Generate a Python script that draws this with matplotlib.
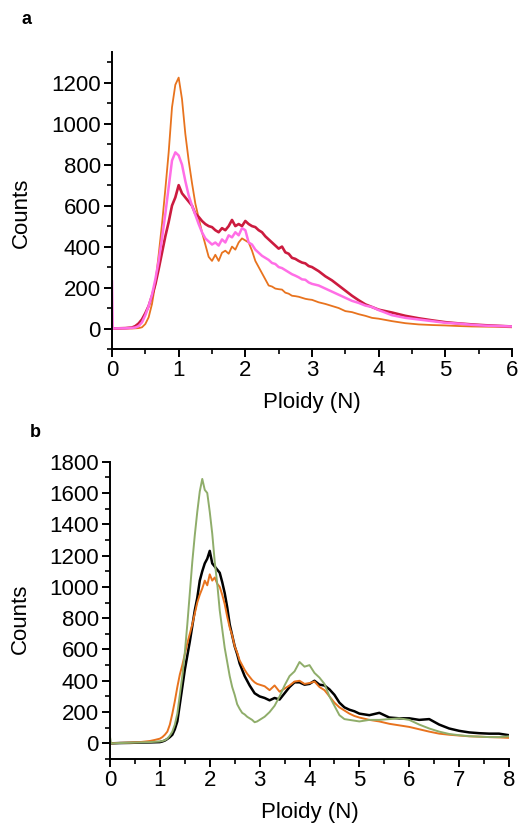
import matplotlib
matplotlib.use("Agg")
import matplotlib.pyplot as plt
from matplotlib.ticker import MultipleLocator

plt.rcParams['font.family'] = ['Liberation Sans', 'DejaVu Sans']

# --- panel a data (ploidy vs counts) ---
XA = [0, 0.01, 0.1, 0.2, 0.3,
      0.35, 0.4, 0.45, 0.5, 0.55, 0.6, 0.65, 0.7, 0.75, 0.8,
      0.85, 0.9, 0.95, 1.0, 1.05, 1.1, 1.15, 1.2, 1.25, 1.3,
      1.35, 1.4, 1.45, 1.5, 1.55, 1.6, 1.65, 1.7, 1.75, 1.8,
      1.85, 1.9, 1.95, 2.0, 2.05, 2.1, 2.15, 2.2, 2.25, 2.3,
      2.35, 2.4, 2.45, 2.5, 2.55, 2.6, 2.65, 2.7, 2.75, 2.8,
      2.85, 2.9, 2.95, 3.0,
      3.1, 3.2, 3.3, 3.4, 3.5, 3.6, 3.7, 3.8, 3.9, 4.0,
      4.2, 4.4, 4.6, 4.8, 5.0, 5.2, 5.4, 5.6, 5.8, 6.0]

A_ORANGE = [0, 0, 0, 0, 0,
            1, 2, 6, 22, 55, 120, 220, 360, 510, 680,
            860, 1080, 1190, 1225, 1120, 950, 820, 710, 610, 540,
            470, 410, 350, 330, 360, 330, 370, 380, 365, 400,
            385, 420, 440, 430, 420, 380, 330, 300, 270, 240,
            210, 205, 195, 192, 190, 175, 170, 160, 158, 155,
            150, 145, 142, 140,
            128, 120, 110, 100, 85, 80, 70, 62, 52, 48,
            36, 26, 20, 17, 15, 12, 10, 9, 8, 6]

A_RED = [0, 0, 1, 2, 5,
         12, 25, 45, 75, 110, 160, 215, 290, 370, 450,
         520, 600, 640, 700, 660, 640, 620, 600, 560, 545,
         525, 510, 500, 495, 480, 470, 490, 480, 500, 530,
         500, 510, 500, 525, 510, 500, 495, 480, 470, 450,
         435, 420, 405, 390, 400, 372, 365, 345, 340, 330,
         322, 318, 305, 300,
         280, 255, 235, 210, 185, 160, 138, 118, 105, 92,
         78, 62, 50, 40, 31, 25, 20, 16, 13, 10]

A_PINK = [230, 0, 1, 1, 3,
          5, 12, 30, 65, 110, 165, 240, 330, 440, 560,
          690, 820, 860, 845, 800, 720, 650, 600, 555, 510,
          470, 440, 425, 410, 420, 405, 435, 420, 455, 445,
          470, 455, 490, 480, 420, 410, 385, 370, 355, 345,
          335, 320, 315, 300, 295, 285, 275, 265, 258, 250,
          240, 238, 225, 218,
          210, 195, 180, 165, 150, 135, 125, 112, 105, 90,
          65, 52, 44, 36, 28, 24, 18, 14, 12, 10]

# --- panel b data ---
XB = [0, 0.02, 0.2, 0.4, 0.6, 0.8, 0.9,
      1.0, 1.05, 1.1, 1.15, 1.2, 1.25, 1.3, 1.35, 1.4, 1.45,
      1.5, 1.55, 1.6, 1.65, 1.7, 1.75, 1.8, 1.85, 1.9, 1.95,
      2.0, 2.05, 2.1, 2.15, 2.2, 2.25, 2.3, 2.35, 2.4, 2.45,
      2.5, 2.55, 2.6, 2.65, 2.7, 2.75, 2.8, 2.85, 2.9, 2.95,
      3.0,
      3.1, 3.2, 3.3, 3.4, 3.5, 3.6, 3.7, 3.8, 3.9, 4.0,
      4.1, 4.2, 4.3, 4.4, 4.5, 4.6, 4.7, 4.8, 4.9, 5.0,
      5.2, 5.4, 5.6, 5.8, 6.0, 6.2, 6.4, 6.6, 6.8, 7.0,
      7.2, 7.4, 7.6, 7.8, 8.0]

B_BLACK = [0, 0, 2, 3, 5, 6, 7,
           8, 12, 18, 28, 40, 55, 90, 140, 250, 360,
           470, 560, 650, 750, 850, 930, 1040, 1100, 1150, 1180,
           1230, 1150, 1130, 1110, 1090, 1030, 960, 870, 760, 690,
           620, 570, 510, 470, 430, 400, 370, 345, 320, 310,
           300,
           290, 275, 290, 280, 320, 360, 390, 390, 375, 380,
           400, 375, 370, 345, 310, 260, 230, 215, 205, 190,
           180, 195, 165, 160, 160, 150, 155, 120, 95, 80,
           70, 65, 62, 62, 52]

B_ORANGE = [0, 0, 3, 5, 8, 15, 22,
            30, 40, 55, 75, 120, 190, 270, 360, 440, 500,
            570, 640, 700, 760, 830, 900, 950, 990, 1040, 1010,
            1080, 1040, 1060, 1020, 1000, 950, 890, 810, 740, 690,
            620, 580, 530, 500, 470, 445, 425, 405, 390, 380,
            375,
            365, 340, 370, 330, 350, 370, 395, 400, 380, 385,
            395, 360, 340, 300, 260, 230, 210, 190, 175, 165,
            150, 140, 125, 115, 105, 90, 75, 62, 55, 50,
            45, 43, 40, 38, 35]

B_GREEN = [40, 0, 2, 4, 6, 8, 10,
           12, 15, 20, 30, 50, 75, 120, 190, 310, 430,
           580, 760, 960, 1160, 1330, 1480, 1610, 1690, 1620, 1600,
           1480, 1340, 1160, 1020, 850, 730, 610, 520, 430, 360,
           310, 250, 220, 195, 185, 170, 160, 150, 135, 140,
           150,
           170, 200, 240, 300, 370, 430, 460, 520, 490, 500,
           450, 420, 380, 300, 240, 180, 155, 150, 145, 140,
           150, 150, 155, 160, 150, 120, 95, 75, 60, 52,
           46, 43, 40, 40, 45]

ORANGE = "#E8731E"
RED = "#CC1B3F"
PINK = "#FF6EE6"
GREEN = "#8FAD6A"

fig = plt.figure(figsize=(5.25, 8.3), dpi=100)
ax_a = fig.add_axes([112 / 525, 1 - 349 / 830, 400 / 525, 297 / 830])
ax_b = fig.add_axes([110 / 525, 1 - 759 / 830, 399 / 525, 297.3 / 830])

ax_a.plot(XA, A_ORANGE, color=ORANGE, lw=1.3)
ax_a.plot(XA, A_RED, color=RED, lw=1.9)
ax_a.plot(XA, A_PINK, color=PINK, lw=1.8)

ax_b.plot(XB, B_BLACK, color="black", lw=1.8)
ax_b.plot(XB, B_ORANGE, color=ORANGE, lw=1.4)
ax_b.plot(XB, B_GREEN, color=GREEN, lw=1.4)


def style(ax, xmax, ytop, ymaj):
    ax.set_xlim(0, xmax)
    ax.set_ylim(-100, ytop)
    ax.xaxis.set_major_locator(MultipleLocator(1))
    ax.xaxis.set_minor_locator(MultipleLocator(0.5))
    ax.yaxis.set_major_locator(MultipleLocator(ymaj))
    ax.yaxis.set_minor_locator(MultipleLocator(100))
    for s in ["top", "right"]:
        ax.spines[s].set_visible(False)
    for s in ["left", "bottom"]:
        ax.spines[s].set_linewidth(1.4)
    ax.tick_params(which="major", direction="out", length=6, width=1.4,
                   labelsize=16, pad=2)
    ax.tick_params(which="minor", direction="out", length=3.5, width=1.2)
    ax.set_xlabel("Ploidy (N)", fontsize=16)
    ax.set_ylabel("Counts", fontsize=16)
    ax.xaxis.set_label_coords(0.5, -0.145)


style(ax_a, 6, 1350, 200)
style(ax_b, 8, 1800, 200)
ax_a.set_yticks([0, 200, 400, 600, 800, 1000, 1200])
ax_a.yaxis.set_label_coords(-0.2, 0.46)
ax_b.yaxis.set_label_coords(-0.198, 0.47)

fig.text(27 / 525, 1 - 20 / 830, "a", fontsize=13, fontweight="bold",
         ha="center", va="center")
fig.text(35 / 525, 1 - 432 / 830, "b", fontsize=13, fontweight="bold",
         ha="center", va="center")

fig.savefig("out.png", dpi=100)
